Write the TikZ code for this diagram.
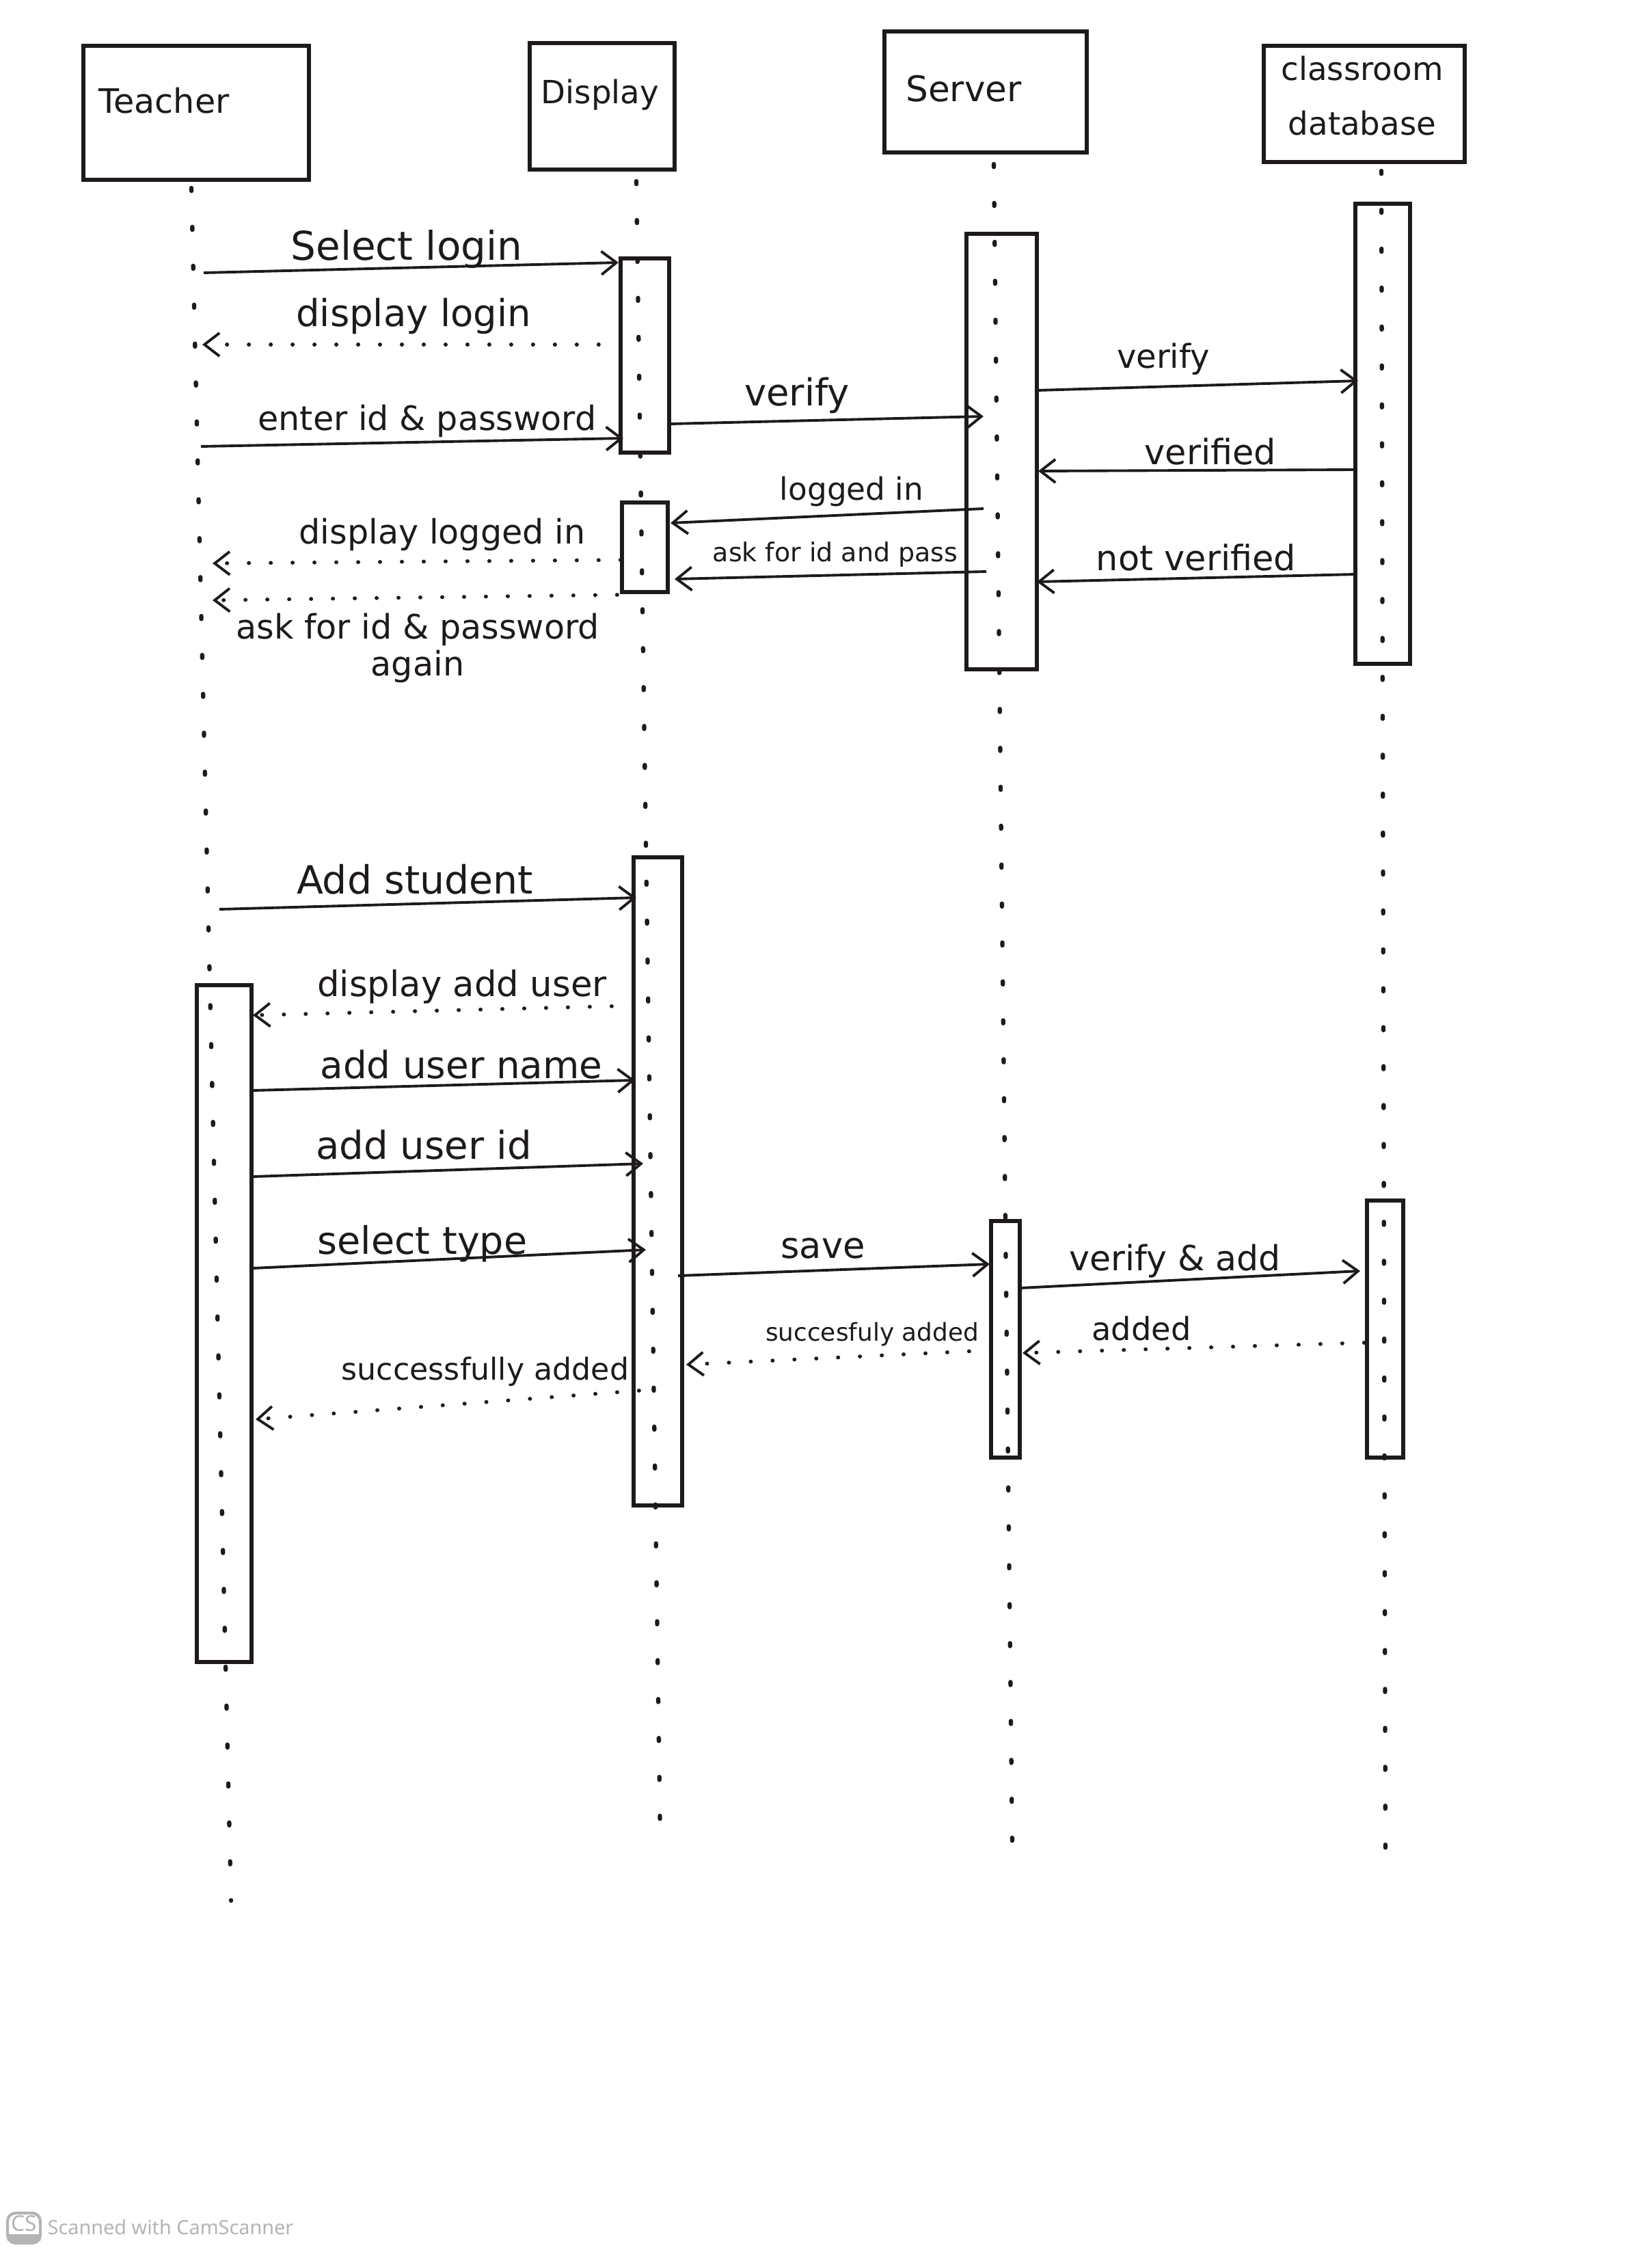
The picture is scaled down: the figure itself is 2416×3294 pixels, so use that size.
\documentclass[tikz,border=0pt]{standalone}
\usepackage{fontspec}
\setmainfont{DejaVu Sans}
\newfontfamily\wmfont{Noto Sans}
\usetikzlibrary{arrows.meta}
\definecolor{ink}{HTML}{1E1A1A}
\definecolor{wmgray}{HTML}{B4B4B4}
\tikzset{
  headbox/.style={draw=ink, line width=1.8pt, inner sep=0pt, outer sep=0pt},
  actbar/.style={draw=ink, line width=1.6pt, inner sep=0pt, outer sep=0pt},
  lifeline/.style={draw=ink, line width=1.8pt, line cap=round, dash pattern=on 1.2pt off 15pt},
  call/.style={draw=ink, line width=1.1pt, -{Straight Barb[length=2.2mm,width=3.4mm,line width=1.1pt]}},
  reply/.style={draw=ink, line width=1.6pt, line cap=round, dash pattern=on 0.1pt off 9pt,
    -{Straight Barb[length=2.2mm,width=3.4mm,line width=1.1pt]}},
  lbl/.style={font=\fontsize{#1}{#1}\selectfont, inner sep=0pt, text=ink},
}
\begin{document}
\begin{tikzpicture}[x=0.1mm, y=-0.1mm]
\useasboundingbox (0,0) rectangle (2416,3294);
\fill[white] (0,0) rectangle (2416,3294);

% participants
\node[headbox, minimum width=33mm, minimum height=19.6mm] (teacher) at (287,165) {};
\node[headbox, minimum width=21.2mm, minimum height=18.5mm] (display) at (881,155.5) {};
\node[headbox, minimum width=29.6mm, minimum height=17.7mm] (server) at (1442,134.5) {};
\node[headbox, minimum width=29.4mm, minimum height=17mm] (db) at (1996,152) {};
\node[lbl=14] (teacher-name) at (240,147) {Teacher};
\node[lbl=13.3] (display-name) at (878,139) {Display};
\node[lbl=14.7] (server-name) at (1410,130) {Server};
\node[lbl=13.3, align=center, font=\fontsize{13.3}{23}\selectfont] (db-name) at (1993,140) {classroom\\database};

% lifelines
\coordinate (tl-top) at (280,275);  \coordinate (tl-bot) at (338,2780);
\coordinate (dl-top) at (931,265);  \coordinate (dl-bot) at (966,2690);
\coordinate (sl-top) at (1454,240); \coordinate (sl-bot) at (1481,2700);
\coordinate (xl-top) at (2021,250); \coordinate (xl-bot) at (2027,2720);
\draw[lifeline] (tl-top) -- (tl-bot);
\draw[lifeline] (dl-top) -- (dl-bot);
\draw[lifeline] (sl-top) -- (sl-bot);
\draw[lifeline] (xl-top) -- (xl-bot);

% activation bars
\node[actbar, minimum width=7.1mm, minimum height=28.4mm] (dbar1) at (943.5,520) {};
\node[actbar, minimum width=6.7mm, minimum height=13.1mm] (dbar2) at (943.5,800.5) {};
\node[actbar, minimum width=10.3mm, minimum height=63.7mm] (sbar1) at (1465.5,660.5) {};
\node[actbar, minimum width=8mm, minimum height=67.3mm] (xbar1) at (2023,634.5) {};
\node[actbar, minimum width=7.1mm, minimum height=94.8mm] (dbar3) at (962.5,1728) {};
\node[actbar, minimum width=8mm, minimum height=99mm] (tbar) at (328,1936) {};
\node[actbar, minimum width=4.2mm, minimum height=34.6mm] (sbar2) at (1471,1959) {};
\node[actbar, minimum width=5.3mm, minimum height=37.6mm] (xbar2) at (2026.5,1944) {};

% message end points
\coordinate (m1a) at (298,399);   \coordinate (m1b) at (905,384);
\coordinate (m2a) at (908,504);   \coordinate (m2b) at (296,504);
\coordinate (m3a) at (294,653);   \coordinate (m3b) at (912,641);
\coordinate (m4a) at (981,620);   \coordinate (m4b) at (1439,609);
\coordinate (m5a) at (1517,571);  \coordinate (m5b) at (1987,557);
\coordinate (m6a) at (1983,687);  \coordinate (m6b) at (1519,689);
\coordinate (m7a) at (1439,744);  \coordinate (m7b) at (981,765);
\coordinate (m8a) at (1443,836);  \coordinate (m8b) at (987,847);
\coordinate (m9a) at (1983,840);  \coordinate (m9b) at (1517,851);
\coordinate (m10a) at (908,819);  \coordinate (m10b) at (311,824);
\coordinate (m11a) at (903,870);  \coordinate (m11b) at (311,878);
\coordinate (m12a) at (321,1330); \coordinate (m12b) at (931,1313);
\coordinate (m13a) at (927,1471); \coordinate (m13b) at (370,1485);
\coordinate (m14a) at (370,1595); \coordinate (m14b) at (929,1580);
\coordinate (m15a) at (370,1721); \coordinate (m15b) at (941,1702);
\coordinate (m16a) at (370,1855); \coordinate (m16b) at (945,1828);
\coordinate (m17a) at (992,1866); \coordinate (m17b) at (1448,1849);
\coordinate (m18a) at (1492,1884);\coordinate (m18b) at (1990,1859);
\coordinate (m19a) at (1450,1975);\coordinate (m19b) at (1004,1996);
\coordinate (m20a) at (1996,1964);\coordinate (m20b) at (1496,1979);
\coordinate (m21a) at (935,2034); \coordinate (m21b) at (374,2076);

% login sequence
\draw[call]  (m1a) -- (m1b);
\draw[reply] (m2a) -- (m2b);
\draw[call]  (m3a) -- (m3b);
\draw[call]  (m4a) -- (m4b);
\draw[call]  (m5a) -- (m5b);
\draw[call]  (m6a) -- (m6b);
\draw[call]  (m7a) -- (m7b);
\draw[call]  (m8a) -- (m8b);
\draw[call]  (m9a) -- (m9b);
\draw[reply] (m10a) -- (m10b);
\draw[reply] (m11a) -- (m11b);

\node[lbl=16.5] (l1) at (595,365) {Select login};
\node[lbl=15.5] (l2) at (605,462) {display login};
\node[lbl=14] (l3) at (625,616) {enter id \& password};
\node[lbl=15.5] (l4) at (1166,578) {verify};
\node[lbl=13.7] (l5) at (1702,525) {verify};
\node[lbl=14.5] (l6) at (1771,660) {verified};
\node[lbl=12.9] (l7) at (1246,719) {logged in};
\node[lbl=10.8] (l8) at (1222,811) {ask for id and pass};
\node[lbl=14.5] (l9) at (1750,815) {not verified};
\node[lbl=14] (l10) at (647,782) {display logged in};
\node[lbl=14, align=center, font=\fontsize{14}{15.6}\selectfont] (l11) at (611,948) {ask for id \& password\\again};

% add student sequence
\draw[call]  (m12a) -- (m12b);
\draw[reply] (m13a) -- (m13b);
\draw[call]  (m14a) -- (m14b);
\draw[call]  (m15a) -- (m15b);
\draw[call]  (m16a) -- (m16b);
\draw[call]  (m17a) -- (m17b);
\draw[call]  (m18a) -- (m18b);
\draw[reply] (m19a) -- (m19b);
\draw[reply] (m20a) -- (m20b);
\draw[reply] (m21a) -- (m21b);

\node[lbl=16.2] (l12) at (607,1286) {Add student};
\node[lbl=14.6] (l13) at (676,1443) {display add user};
\node[lbl=15.6] (l14) at (675,1557) {add user name};
\node[lbl=16] (l15) at (620,1675) {add user id};
\node[lbl=15.8] (l16) at (618,1819) {select type};
\node[lbl=15] (l17) at (1204,1826) {save};
\node[lbl=14.4] (l18) at (1719,1845) {verify \& add};
\node[lbl=10.2] (l19) at (1276,1952) {succesfuly added};
\node[lbl=13.2] (l20) at (1670,1943) {added};
\node[lbl=12.6] (l21) at (710,2006) {successfully added};

% scanner footer
\draw[wmgray, line width=1.2pt, rounded corners=1.2mm] (11,3237) rectangle (59,3281);
\fill[wmgray, rounded corners=1.2mm] (11,3268) rectangle (59,3281);
\fill[wmgray] (11,3268) rectangle (59,3274);
\node[font=\wmfont\bfseries\fontsize{9}{9}\selectfont, text=wmgray, inner sep=0pt] (cs-logo) at (35,3252) {CS};
\node[font=\wmfont\fontsize{8.2}{8.2}\selectfont, text=wmgray, inner sep=0pt, anchor=west] (cs-text) at (69,3258) {Scanned with CamScanner};
\end{tikzpicture}
\end{document}
